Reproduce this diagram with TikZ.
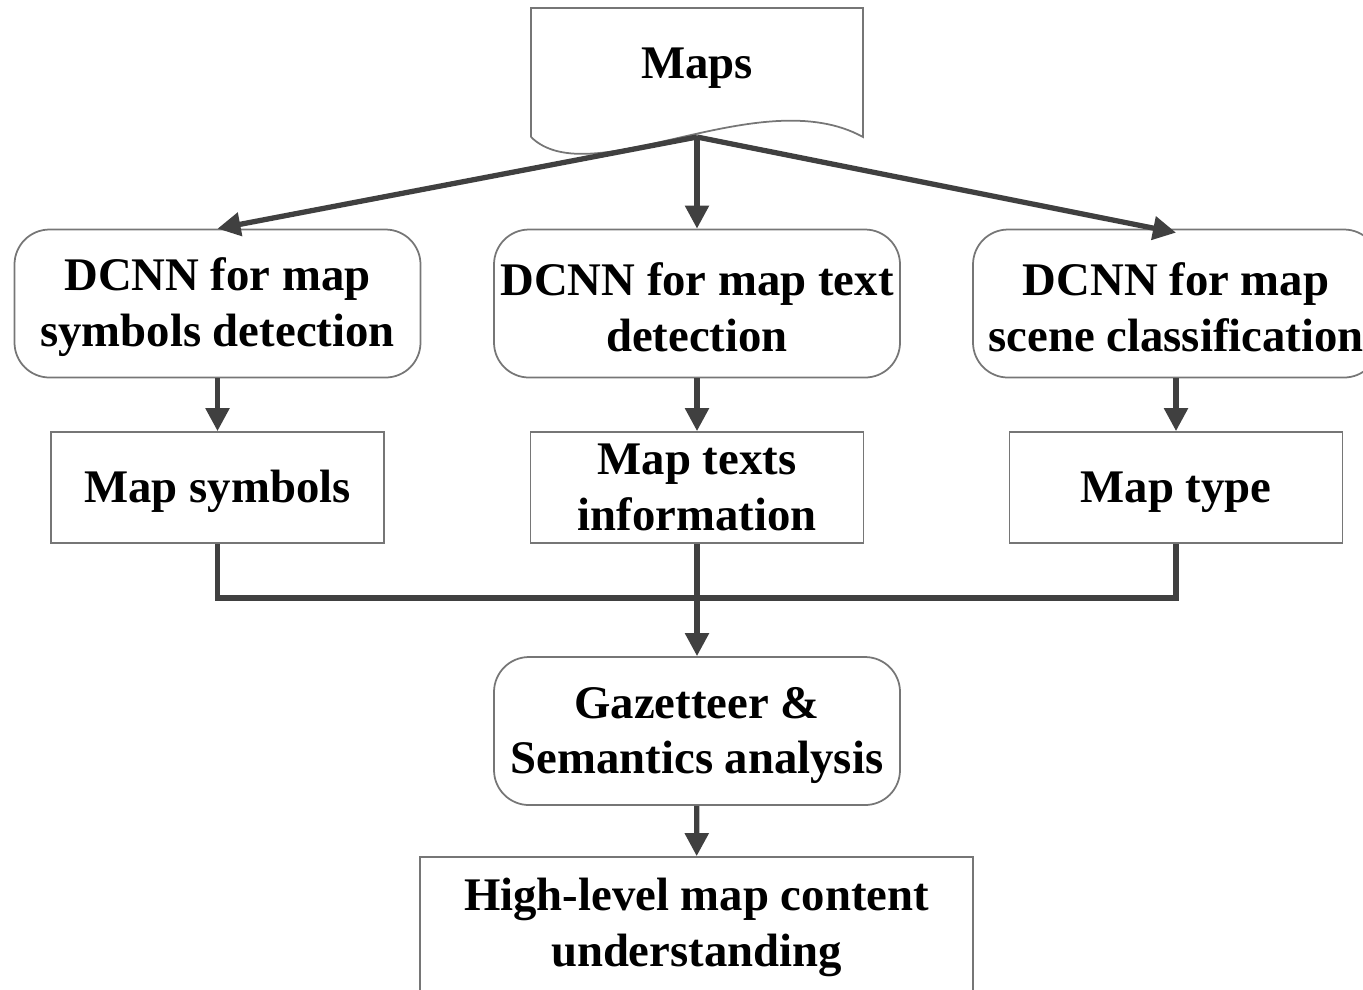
\documentclass[tikz,border=0pt]{standalone}
\usepackage{fontspec}
\setmainfont{Liberation Serif}
\usetikzlibrary{arrows.meta}
\definecolor{linkgray}{HTML}{404040}
\definecolor{boxgray}{HTML}{767676}
% strut that pushes the first line of a node a little lower
\newcommand{\lowstrut}{\rule{0pt}{11.4pt}}
\begin{document}
\begin{tikzpicture}[every node/.style={font=\bfseries\fontsize{13.3}{15.9}\selectfont}]
  \tikzstyle{rbox}=[draw=boxgray,rounded corners=0.35cm,minimum width=4.06cm,minimum height=1.48cm,align=center,inner sep=0pt,line width=0.5pt]
  \tikzstyle{sbox}=[draw=boxgray,minimum width=3.33cm,minimum height=1.11cm,align=center,inner sep=0pt,line width=0.5pt]
  \tikzstyle{link}=[draw=linkgray,line width=1.5pt]
  \tikzstyle{arr}=[link,-{Triangle[length=0.23cm,width=0.23cm]}]
  \clip (0,0) rectangle (13.63,-9.89);
  \useasboundingbox (0,0) rectangle (13.63,-9.89);
  % document shape for the input
  \draw[boxgray,line width=0.5pt] (5.31,-1.37) -- (5.31,-0.08) -- (8.63,-0.08) -- (8.63,-1.37)
    .. controls (7.6,-0.8) and (5.9,-1.95) .. (5.31,-1.37);
  \node (maps) at (6.97,-0.63) {\lowstrut Maps};
  \coordinate (mapsbot) at (6.97,-1.37);
  % three networks
  \node[rbox] (symdet) at (2.175,-3.035) {\lowstrut DCNN for map\\symbols detection};
  \node[rbox] (txtdet) at (6.97,-3.035) {\lowstrut DCNN for map text\\detection};
  \node[rbox] (scncls) at (11.76,-3.035) {\lowstrut DCNN for map\\scene classification};
  % their outputs
  \node[sbox] (symbols) at (2.175,-4.875) {\lowstrut Map symbols};
  \node[sbox] (texts) at (6.97,-4.875) {Map texts\\information};
  \node[sbox] (mtype) at (11.76,-4.875) {\lowstrut Map type};
  \node[rbox] (gaz) at (6.97,-7.31) {\lowstrut Gazetteer \&\\Semantics analysis};
  \node[draw=boxgray,minimum width=5.53cm,minimum height=1.34cm,align=center,inner sep=0pt,line width=0.5pt] (high) at (6.965,-9.24) {\lowstrut High-level map content\\understanding};
  \coordinate (join) at (6.97,-5.98);
  \draw[arr] (mapsbot) -- (symdet.north);
  \draw[arr] (mapsbot) -- (txtdet.north);
  \draw[arr] (mapsbot) -- ([yshift=-0.04cm]scncls.north);
  \draw[arr] (symdet) -- (symbols);
  \draw[arr] (txtdet) -- (texts);
  \draw[arr] (scncls) -- (mtype);
  \draw[link] (symbols.south) |- (join) -| (mtype.south);
  \draw[arr] (texts) -- (gaz);
  \draw[arr] (gaz) -- (high);
\end{tikzpicture}
\end{document}
